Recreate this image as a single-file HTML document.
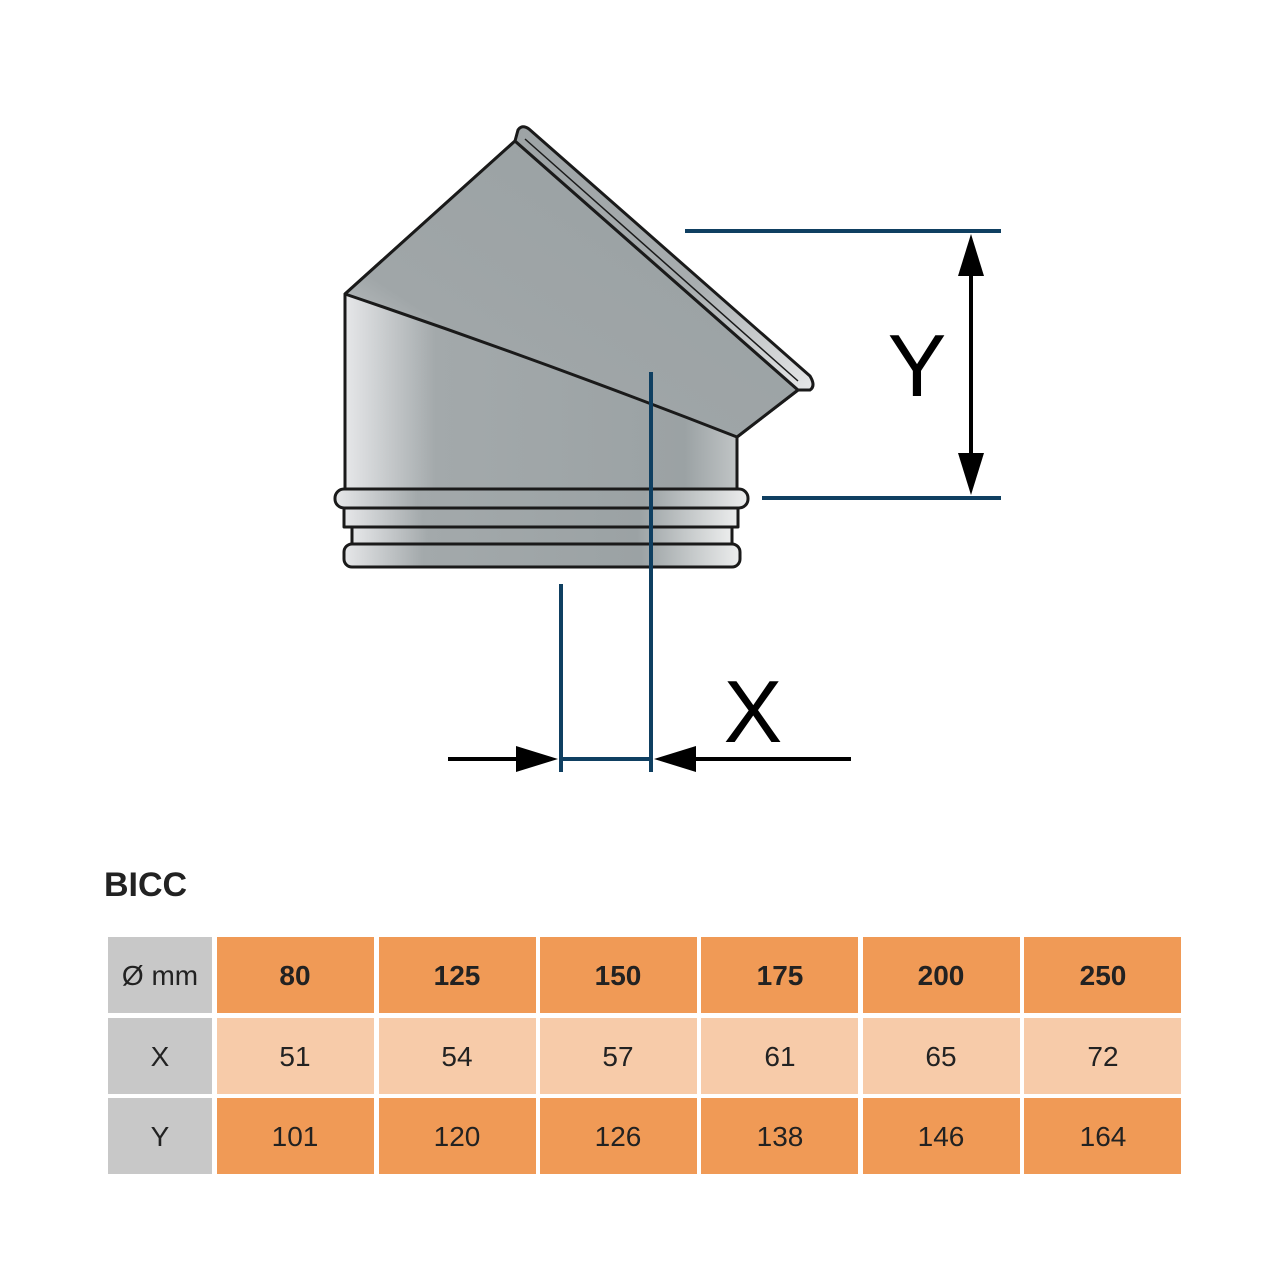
<!DOCTYPE html>
<html><head><meta charset="utf-8"><style>
body{margin:0;background:#fff;width:1280px;height:1280px;overflow:hidden;font-family:"Liberation Sans",sans-serif}
</style></head><body>
<svg width="1280" height="1280" viewBox="0 0 1280 1280" xmlns="http://www.w3.org/2000/svg">
<defs>
<linearGradient id="g" x1="0" x2="1" y1="0" y2="0">
<stop offset="0" stop-color="#e6e7e9"/><stop offset="0.2" stop-color="#a3a9ab"/><stop offset="0.75" stop-color="#9ba2a4"/><stop offset="1" stop-color="#eceded"/>
</linearGradient>
<linearGradient id="g2" x1="0" y1="1" x2="1" y2="0">
<stop offset="0" stop-color="#e6e7e9"/><stop offset="0.3" stop-color="#a0a6a8"/><stop offset="0.75" stop-color="#9ba2a4"/><stop offset="1" stop-color="#e8e9ea"/>
</linearGradient>
<linearGradient id="g3" x1="0" y1="0" x2="1" y2="1">
<stop offset="0" stop-color="#9da3a5"/><stop offset="0.6" stop-color="#a8adaf"/><stop offset="1" stop-color="#e6e7e8"/>
</linearGradient>
</defs>
<g stroke="#1a1a1a" stroke-width="3" stroke-linejoin="round">
<path d="M345,294 L515,141 L798,390 L737,437 L737,490 L345,490 Z" fill="url(#g)"/>
<path d="M345,294 L515,141 L798,390 L737,437 Q540,360 345,294 Z" fill="url(#g2)"/>
<path d="M515,141 L518,130 Q522,124 529,129 L810,376 Q816,386 810,390 L798,390 Z" fill="url(#g3)"/>
<line x1="525" y1="139" x2="798" y2="381" stroke-width="1.5"/>
<rect x="335" y="489" width="413" height="19" rx="9" fill="url(#g)"/>
<rect x="344" y="508" width="394" height="19" fill="url(#g)"/>
<rect x="352" y="527" width="380" height="17" fill="url(#g)"/>
<rect x="344" y="544" width="396" height="23" rx="8" fill="url(#g)"/>
</g>
<g stroke="#0f3f61" stroke-width="4">
<line x1="685" y1="231" x2="1001" y2="231"/>
<line x1="762" y1="498" x2="1001" y2="498"/>
<line x1="561" y1="584" x2="561" y2="772"/>
<line x1="651" y1="372" x2="651" y2="772"/>
<line x1="561" y1="759" x2="651" y2="759"/>
</g>
<g stroke="#000" stroke-width="4">
<line x1="971" y1="260" x2="971" y2="470"/>
<line x1="448" y1="759" x2="525" y2="759"/>
<line x1="690" y1="759" x2="851" y2="759"/>
</g>
<polygon points="971,234 958,276 984,276" fill="#000"/>
<polygon points="971,495 958,453 984,453" fill="#000"/>
<polygon points="558,759 516,746 516,772" fill="#000"/>
<polygon points="654,759 696,746 696,772" fill="#000"/>
<text x="917" y="396" font-size="88" text-anchor="middle" fill="#000">Y</text>
<text x="753" y="742" font-size="88" text-anchor="middle" fill="#000">X</text>
<text x="104" y="896" font-size="34" font-weight="bold" fill="#222">BICC</text>
<g font-size="28" text-anchor="middle" fill="#222">
<rect x="108" y="937" width="104" height="76" fill="#c8c8c8"/>
<rect x="108" y="1018" width="104" height="76" fill="#c8c8c8"/>
<rect x="108" y="1098" width="104" height="76" fill="#c8c8c8"/>
<text x="160" y="985">Ø mm</text><text x="160" y="1066">X</text><text x="160" y="1146">Y</text>
</g>
<g font-size="28" text-anchor="middle" fill="#222">
<g fill="#f09a56"><rect x="217" y="937" width="157" height="76"/><rect x="379" y="937" width="157" height="76"/><rect x="540" y="937" width="157" height="76"/><rect x="701" y="937" width="157" height="76"/><rect x="863" y="937" width="157" height="76"/><rect x="1024" y="937" width="157" height="76"/>
<rect x="217" y="1098" width="157" height="76"/><rect x="379" y="1098" width="157" height="76"/><rect x="540" y="1098" width="157" height="76"/><rect x="701" y="1098" width="157" height="76"/><rect x="863" y="1098" width="157" height="76"/><rect x="1024" y="1098" width="157" height="76"/></g>
<g fill="#f7cba9"><rect x="217" y="1018" width="157" height="76"/><rect x="379" y="1018" width="157" height="76"/><rect x="540" y="1018" width="157" height="76"/><rect x="701" y="1018" width="157" height="76"/><rect x="863" y="1018" width="157" height="76"/><rect x="1024" y="1018" width="157" height="76"/></g>
<g font-weight="bold"><text x="295" y="985">80</text><text x="457" y="985">125</text><text x="618" y="985">150</text><text x="780" y="985">175</text><text x="941" y="985">200</text><text x="1103" y="985">250</text></g>
<text x="295" y="1066">51</text><text x="457" y="1066">54</text><text x="618" y="1066">57</text><text x="780" y="1066">61</text><text x="941" y="1066">65</text><text x="1103" y="1066">72</text>
<text x="295" y="1146">101</text><text x="457" y="1146">120</text><text x="618" y="1146">126</text><text x="780" y="1146">138</text><text x="941" y="1146">146</text><text x="1103" y="1146">164</text>
</g>
</svg>
</body></html>
